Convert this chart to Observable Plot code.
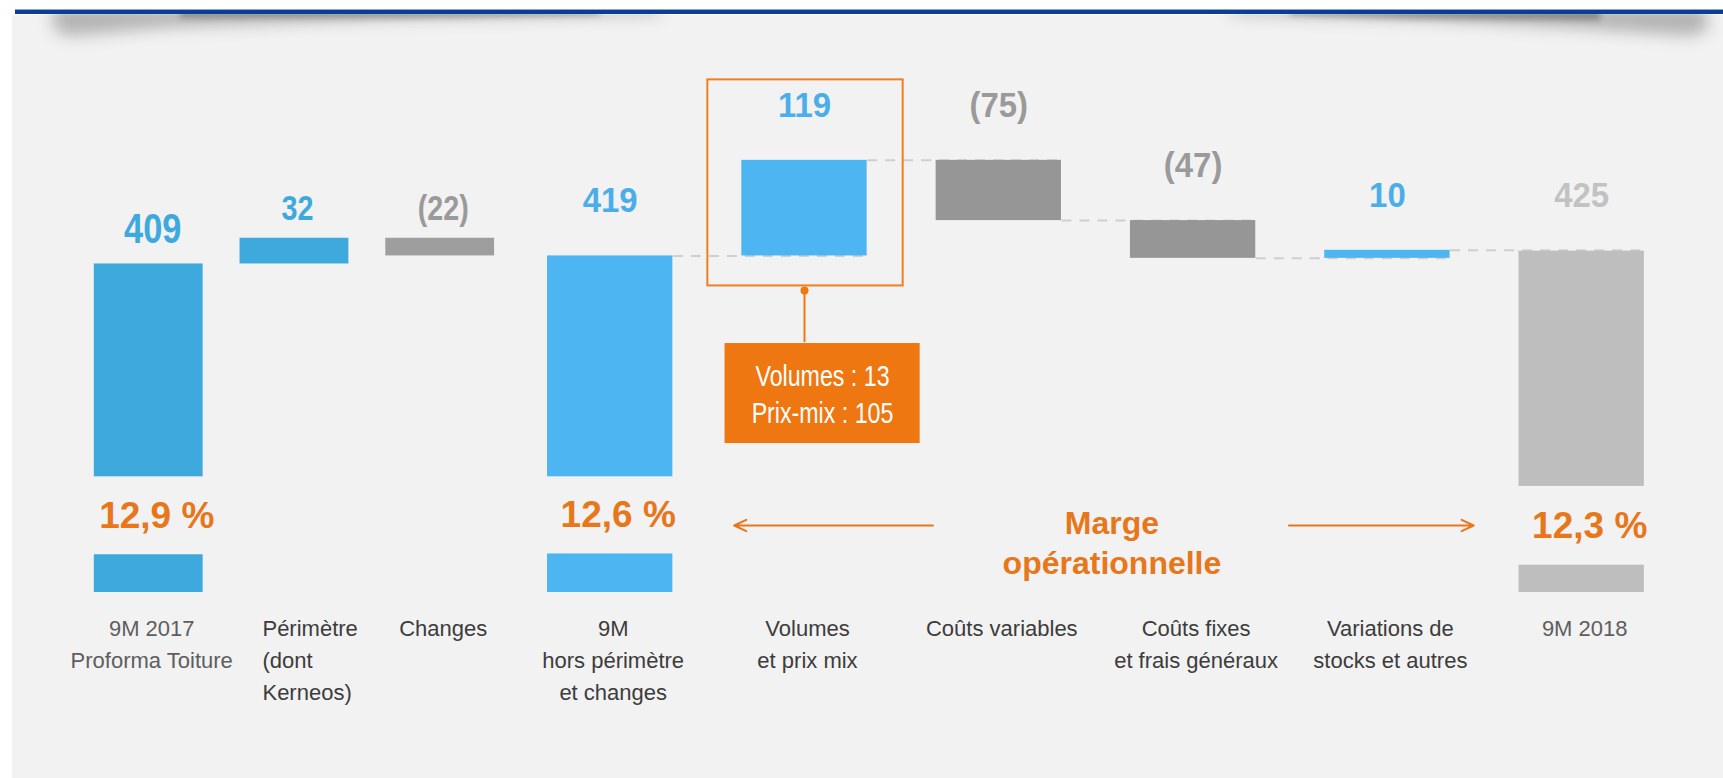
<!DOCTYPE html>
<html><head><meta charset="utf-8">
<script src="https://cdn.jsdelivr.net/npm/d3@7"></script>
<script src="https://cdn.jsdelivr.net/npm/@observablehq/plot@0.6"></script>
<style>
html,body{margin:0;padding:0;background:#fff;width:1723px;height:778px;overflow:hidden;font-family:"Liberation Sans",Arial,sans-serif;}
#panel{position:absolute;left:12px;top:15px;width:1711px;height:763px;background:#f2f2f2;}
#rule{position:absolute;left:15px;top:9px;width:1708px;height:4px;background:#0b3d92;border-top:1px solid #8aa4d6;}
#shadow{position:absolute;left:0;top:0;}
#chart{position:absolute;left:0;top:0;}
</style></head><body>
<div id="panel"></div>
<svg id="shadow" width="1723" height="70">
  <defs>
    <filter id="b8" x="-20%" y="-300%" width="140%" height="700%"><feGaussianBlur stdDeviation="8"/></filter>
    <filter id="b3" x="-20%" y="-300%" width="140%" height="700%"><feGaussianBlur stdDeviation="3"/></filter>
    <clipPath id="cl"><rect x="12" y="14" width="1711" height="56"/></clipPath>
  </defs>
  <g clip-path="url(#cl)">
    <polygon points="52,6 660,6 660,14 400,18 170,27 70,36 54,30" fill="#000" fill-opacity="0.26" filter="url(#b8)"/>
    <polygon points="180,10 600,10 600,15 400,18 180,18" fill="#000" fill-opacity="0.28" filter="url(#b3)"/>
    <polygon points="1230,6 1706,6 1708,30 1690,36 1580,28 1420,19 1230,14" fill="#000" fill-opacity="0.26" filter="url(#b8)"/>
    <polygon points="1290,10 1600,10 1600,20 1420,19 1290,15" fill="#000" fill-opacity="0.28" filter="url(#b3)"/>
  </g>
</svg>
<div id="rule"></div>
<div id="chart"></div>
<script>
// ---- data ----
const categories = [
  "9M 2017\nProforma Toiture",
  "Périmètre\n(dont\nKerneos)",
  "Changes",
  "9M\nhors périmètre\net changes",
  "Volumes\net prix mix",
  "Coûts variables",
  "Coûts fixes\net frais généraux",
  "Variations de\nstocks et autres",
  "9M 2018"
];
const kinds = ["total", "delta", "delta", "total", "delta", "delta", "delta", "delta", "total"];
const values = [409, 32, -22, 419, 119, -75, -47, 10, 425];
const marginRates = [12.9, 12.6, 12.3];          // marge opérationnelle (%) on the three totals
const volumeSplitLabels = ["Volumes", "Prix-mix"];
const volumeSplitValues = [13, 105];
const annotationText = "Marge\nopérationnelle";

// ---- layout (not data) ----
const breakBands = [[47, 144], [48, 144], [34, 132]]; // axis-break band on the tall total bars
const ORANGE = "#e8761a";
const BG = "#f2f2f2";
const SANS = "'Liberation Sans',Arial,sans-serif";

// ---- waterfall construction ----
let running = 0;
const rows = categories.map((category, i) => {
  const value = values[i], kind = kinds[i];
  let y1, y2;
  if (kind === "total") { y1 = 0; y2 = value; }
  else { y1 = running; y2 = running + value; }
  running = y2;
  const group = i < 3 ? "A" : "B";
  const slot = group === "A" ? 0.625 + 0.75 * i : i;
  const half = group === "A" ? 0.28 : 0.3225;
  return {
    i, category, kind, value, y1, y2, group, slot,
    xl: slot - half, xr: slot + half,
    top: Math.max(y1, y2), end: y2,
    label: value < 0 ? `(${-value})` : `${value}`,
    last: i === categories.length - 1
  };
});
const totals = rows.filter(d => d.kind === "total").map((d, k) => ({
  ...d, rate: marginRates[k], b0: breakBands[k][0], b1: breakBands[k][1]
}));
const connectors = d3.range(3, rows.length - 1).map(i => ({
  x1: rows[i].xr, x2: rows[i + 1].xr, level: rows[i].end
}));
const vol = rows[4];
const fmtRate = r => r.toFixed(1).replace(".", ",") + " %";
const annX = (rows[5].slot + rows[6].slot) / 2;

function barFill(d) {
  if (d.last) return "#bebebe";
  if (d.value < 0) return d.group === "A" ? "#9e9e9e" : "#969696";
  return d.group === "A" ? "#3ea9dd" : "#4db5f2";
}
function labelFill(d) {
  if (d.last) return "#c2c2c2";
  if (d.value < 0) return "#9a9a9a";
  return d.group === "A" ? "#3ea9dd" : "#4aaeea";
}
function catFill(d) {
  return (d.i === 0 || d.last) ? "#5e5e5e" : "#3c3c3c";
}

const chart = Plot.plot({
  width: 1723,
  height: 778,
  marginLeft: 0, marginRight: 0, marginTop: 0, marginBottom: 186,
  style: {background: "transparent", fontFamily: SANS, overflow: "visible"},
  x: {type: "linear", domain: [-0.1379, 8.7298], axis: null},
  y: {domain: [0, 737], axis: null},
  color: {type: "identity"},
  marks: [
    // dashed connectors
    Plot.link(connectors, {x1: "x1", x2: "x2", y1: "level", y2: "level",
      stroke: "#cfcfcf", strokeWidth: 2, strokeDasharray: "10,8"}),
    // bars
    Plot.rect(rows, {x1: "xl", x2: "xr", y1: "y1", y2: "y2", fill: barFill}),
    // axis-break covers on the totals
    Plot.rect(totals, {x1: "xl", x2: "xr", y1: "b0", y2: "b1", fill: BG, insetLeft: -2, insetRight: -2}),
    // margin rate labels
    Plot.text(totals, {x: "slot", y: d => (d.b0 + d.b1) / 2, text: d => fmtRate(d.rate), dx: 8,
      fill: ORANGE, fontSize: 37, fontWeight: "bold", fontFamily: SANS}),
    // value labels
    Plot.text(rows.filter(d => d.group === "B"), {x: "slot", y: "top", text: "label", dy: -55,
      fill: labelFill, fontSize: 35, fontWeight: "bold", fontFamily: SANS, ariaDescription: "sq94"}),
    Plot.text(rows.filter(d => d.i === 0), {x: "slot", y: "top", text: "label", dx: 4, dy: -35,
      fill: labelFill, fontSize: 43, fontWeight: "bold", fontFamily: SANS, ariaDescription: "sq80"}),
    Plot.text(rows.filter(d => d.group === "A" && d.i > 0), {x: "slot", y: "top", text: "label", dx: 3, dy: -29,
      fill: labelFill, fontSize: 35, fontWeight: "bold", fontFamily: SANS, ariaDescription: "sq82"}),
    // category labels
    Plot.text(rows.filter(d => d.i !== 1), {x: "slot", y: () => 0, text: "category", lineAnchor: "top",
      dx: 3, dy: 21, lineHeight: 1.45, fontSize: 22, fill: catFill, fontFamily: SANS}),
    Plot.text(rows.filter(d => d.i === 1), {x: "slot", y: () => 0, text: "category", lineAnchor: "top",
      textAnchor: "start", dx: -32, dy: 21, lineHeight: 1.45, fontSize: 22, fill: catFill, fontFamily: SANS}),
    // highlight box around "Volumes et prix mix"
    Plot.rect([vol], {x1: "xl", x2: "xr", y1: "y1", y2: "y2", fill: "none", stroke: "#f07f1e", strokeWidth: 2,
      insetLeft: -34, insetRight: -36, insetTop: -80.5, insetBottom: -30}),
    // callout stem + dot
    Plot.ruleX([vol], {x: "slot", y1: "y1", y2: "y1", insetTop: 34.6, insetBottom: -86.6,
      stroke: "#ee7711", strokeWidth: 2}),
    Plot.dot([vol], {x: "slot", y: "y1", dy: 34.6, r: 4, fill: "#ee7711"}),
    // callout box
    Plot.rect([vol], {x1: "xl", x2: "xr", y1: "y1", y2: "y1", fill: "#ee7711",
      insetLeft: -16.8, insetRight: -53, insetTop: 87.6, insetBottom: -187.6}),
    Plot.text([vol], {x: "slot", y: "y1", dx: 18, dy: 137, lineHeight: 1.276,
      text: () => volumeSplitLabels.map((l, k) => `${l} : ${volumeSplitValues[k]}`).join("\n"),
      fill: "white", fontSize: 29, fontFamily: SANS, ariaDescription: "sq80"}),
    // "Marge opérationnelle" annotation and arrows
    Plot.text([annotationText], {x: () => annX, y: () => 0, dx: 16, dy: -51, text: d => d,
      lineHeight: 1.23, fill: ORANGE, fontSize: 32, fontWeight: "bold", fontFamily: SANS}),
    Plot.arrow([rows[3]], {x1: () => annX, x2: "slot", y1: () => 0, y2: () => 0, dx: 16, dy: -67,
      insetStart: 179, insetEnd: 108, stroke: ORANGE, strokeWidth: 2, headLength: 10, headAngle: 50}),
    Plot.arrow([rows[8]], {x1: () => annX, x2: "slot", y1: () => 0, y2: () => 0, dx: 16, dy: -67,
      insetStart: 177, insetEnd: 124, stroke: ORANGE, strokeWidth: 2, headLength: 10, headAngle: 50})
  ]
});
// condensed lettering (the narrow face is not installed): squeeze horizontally around each anchor
[["sq80", 0.8], ["sq82", 0.82], ["sq94", 0.94]].forEach(([name, k]) => {
  chart.querySelectorAll(`g[aria-description="${name}"] text`).forEach(t => {
    const tr = t.getAttribute("transform");
    if (tr) t.setAttribute("transform", `${tr} scale(${k},1)`);
  });
});
document.getElementById("chart").appendChild(chart);
</script>
</body></html>
